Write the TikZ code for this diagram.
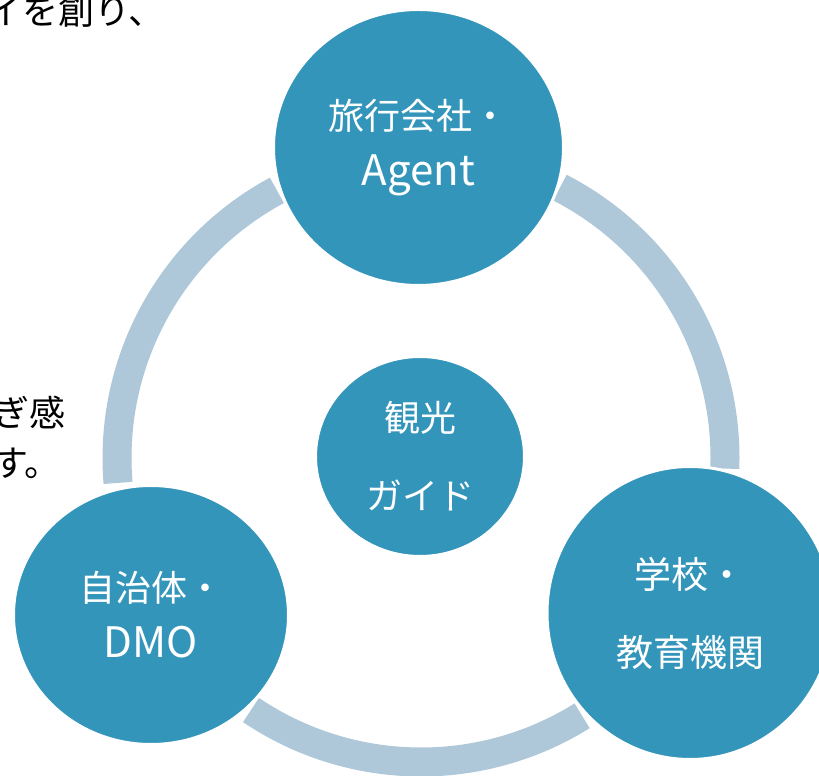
\documentclass[tikz,border=0pt]{standalone}
\usepackage{fontspec}
\setmainfont{Noto Sans CJK JP}
\usetikzlibrary{shapes.geometric}

\definecolor{bubblue}{HTML}{3495BB}
\definecolor{ringblue}{HTML}{AEC8D9}

\tikzset{
  bub/.style={ellipse, fill=bubblue, draw=white, line width=3pt, inner sep=0pt, text=white, align=center},
  ring/.style={draw=ringblue, line width=29pt},
}

\begin{document}
\begin{tikzpicture}[x=1pt, y=1pt, font={\fontsize{36}{56}\selectfont}]
    \useasboundingbox (0,0) rectangle (819,776);
    \coordinate (o) at (421,318);

    % ring pieces between the bubbles
    \draw[ring] (o) ++(118.3:304) arc[start angle=118.3, end angle=184.7, radius=304pt];
    \draw[ring] (o) ++(236:304) arc[start angle=236, end angle=302, radius=304pt];
    \draw[ring] (o) ++(-2:304) arc[start angle=-2, end angle=62.8, radius=304pt];

    \node[bub, minimum width=290pt, minimum height=276pt] (agent) at (418.5,628.5)
        {旅行会社・\\{\fontsize{42}{54}\selectfont Agent}};
    \node[bub, minimum width=275pt, minimum height=259pt] (dmo) at (151,161)
        {自治体・\\{\fontsize{42}{57}\selectfont DMO}};
    \node[bub, minimum width=286pt, minimum height=293pt, font={\fontsize{37}{78}\selectfont}] (school) at (690,163)
        {学校・\\教育機関};
    \node[bub, minimum width=209pt, minimum height=200pt, font={\fontsize{36}{78}\selectfont}] (guide) at (420,319.5)
        {観光\\ガイド};

    % text of the slide, cut at the left
    \node[anchor=base east, inner sep=0pt] (t1) at (165,751) {イを創り、};
    \node[anchor=base east, inner sep=0pt] (t2) at (66,349) {ぎ感};
    \node[anchor=base east, inner sep=0pt] (t3) at (61,299) {す。};
\end{tikzpicture}
\end{document}
